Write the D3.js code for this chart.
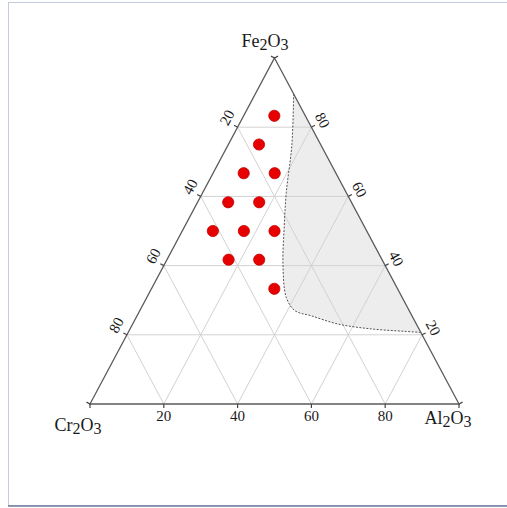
<!DOCTYPE html>
<html>
<head>
<meta charset="utf-8">
<script src="https://cdn.jsdelivr.net/npm/d3@7"></script>
<style>
  body { margin: 0; background: #fff; }
  text { font-family: "Liberation Serif", "Times New Roman", serif; fill: #1a1a1a; }
</style>
</head>
<body>
<div class="ternary"></div>
<script>
// sample compositions (wt %)
const sampleFe = [83.3, 75, 66.7, 66.7, 58.3, 58.3, 50, 50, 50, 41.7, 41.7, 33.3];
const sampleAl = [8.3, 8.3, 8.3, 16.7, 8.3, 16.7, 8.3, 16.7, 25, 16.7, 25, 33.3];
const sampleCr = [8.4, 16.7, 25, 16.6, 33.4, 25, 41.7, 33.3, 25, 41.6, 33.3, 33.4];

// dashed boundary of the shaded field
const fieldFe = [89.6, 74.8, 61.2, 50.6, 40.0, 30.8, 27.0, 25.5, 23.1, 21.7, 21.0, 20.7];
const fieldAl = [10.4, 17.3, 22.6, 27.3, 32.3, 37.8, 42.0, 47.2, 55.7, 65.4, 74.7, 79.3];

const ticks = [20, 40, 60, 80];
const tickEnds = [0, 20, 40, 60, 80, 100];

const width = 507;
const height = 508;

const svg = d3.select('.ternary')
  .append("svg")
  .attr("width", width)
  .attr("height", height);

// frame
svg.append("rect")
  .attr("x", 8.5).attr("y", 2.5)
  .attr("width", 520).attr("height", 503)
  .attr("fill", "none")
  .attr("stroke", "#c3cbe2");
svg.append("line")
  .attr("x1", 8).attr("x2", 507)
  .attr("y1", 506).attr("y2", 506)
  .attr("stroke", "#6c7a9c").attr("stroke-width", 1.5);

const y = d3.scaleLinear().domain([0, 100]).range([404, 58]);
const x = d3.scaleLinear().domain([0, 100]).range([90, 459]);

// fe, al -> pixel
const px = (fe, al) => x(al + fe / 2);
const py = fe => y(fe);
const pt = (fe, al) => [px(fe, al), py(fe)];

// shaded field
const fieldPts = fieldFe.map((f, i) => pt(f, fieldAl[i]));
const curve = d3.line().curve(d3.curveCatmullRom.alpha(0.5));
svg.append("path")
  .attr("d", curve(fieldPts) + "Z")
  .attr("fill", "#ededed")
  .attr("stroke", "none");

// grid
const grid = svg.append("g")
  .attr("stroke", "#d2d2d2")
  .attr("stroke-width", 1);
ticks.forEach(t => {
  // Fe constant
  let a = pt(t, 0), b = pt(t, 100 - t);
  grid.append("line").attr("x1", a[0]).attr("y1", a[1]).attr("x2", b[0]).attr("y2", b[1]);
  // Al constant
  a = pt(0, t); b = pt(100 - t, t);
  grid.append("line").attr("x1", a[0]).attr("y1", a[1]).attr("x2", b[0]).attr("y2", b[1]);
  // Cr constant
  a = pt(0, 100 - t); b = pt(100 - t, 0);
  grid.append("line").attr("x1", a[0]).attr("y1", a[1]).attr("x2", b[0]).attr("y2", b[1]);
});

// dashed boundary on top of the grid
svg.append("path")
  .attr("d", curve(fieldPts))
  .attr("fill", "none")
  .attr("stroke", "#555")
  .attr("stroke-width", 1)
  .attr("stroke-dasharray", "2,1.5");

// triangle
const apex = pt(100, 0), cornerL = pt(0, 0), cornerR = pt(0, 100);
svg.append("path")
  .attr("d", `M${apex}L${cornerR}L${cornerL}Z`)
  .attr("fill", "none")
  .attr("stroke", "#5a5a5a")
  .attr("stroke-width", 1.3);

// edge geometry
const lx = apex[0] - cornerL[0], ly = apex[1] - cornerL[1];
const len = Math.hypot(lx, ly);
const ux = lx / len, uy = ly / len; // up along left edge
const leftN = [uy, -ux];              // outward normal of left edge
const rightN = [-uy, -ux];            // outward normal of right edge
const angle = Math.atan2(ly, lx) * 180 / Math.PI;

const tickG = svg.append("g").attr("stroke", "#444").attr("stroke-width", 1.2);
tickEnds.forEach(t => {
  // left edge (Cr2O3)
  let p = pt(100 - t, 0);
  tickG.append("line").attr("x1", p[0]).attr("y1", p[1])
    .attr("x2", p[0] + leftN[0] * 4).attr("y2", p[1] + leftN[1] * 4);
  // right edge (Fe2O3)
  p = pt(t, 100 - t);
  tickG.append("line").attr("x1", p[0]).attr("y1", p[1])
    .attr("x2", p[0] + rightN[0] * 4).attr("y2", p[1] + rightN[1] * 4);
  // bottom (Al2O3)
  p = pt(0, t);
  tickG.append("line").attr("x1", p[0]).attr("y1", p[1])
    .attr("x2", p[0]).attr("y2", p[1] + 4);
});

// tick labels
ticks.forEach(t => {
  let p = pt(100 - t, 0);
  let cx = p[0] + leftN[0] * 14 + ux * 3.5, cy = p[1] + leftN[1] * 14 + uy * 3.5;
  svg.append("text")
    .attr("transform", `translate(${cx},${cy}) rotate(${angle})`)
    .attr("text-anchor", "middle").attr("dy", "0.35em")
    .attr("font-size", "15px").text(t);

  p = pt(t, 100 - t);
  cx = p[0] + rightN[0] * 12 + ux * 1.5; cy = p[1] + rightN[1] * 12 + uy * 1.5;
  svg.append("text")
    .attr("transform", `translate(${cx},${cy}) rotate(${-angle})`)
    .attr("text-anchor", "middle").attr("dy", "0.35em")
    .attr("font-size", "15px").text(t);

  p = pt(0, t);
  svg.append("text")
    .attr("x", p[0]).attr("y", p[1] + 17)
    .attr("text-anchor", "middle")
    .attr("font-size", "15px").text(t);
});

// vertex labels
const formula = (xx, yy, a) => {
  const t = svg.append("text").attr("x", xx).attr("y", yy)
    .attr("text-anchor", "middle").attr("font-size", "18px");
  t.append("tspan").text(a);
  t.append("tspan").attr("dy", 3).attr("font-size", "16px").text("2");
  t.append("tspan").attr("dy", -3).text("O");
  t.append("tspan").attr("dy", 3).attr("font-size", "16px").text("3");
};
formula(265, 47, "Fe");
formula(78, 431, "Cr");
formula(448, 424, "Al");

// samples
svg.selectAll("circle")
  .data(sampleFe)
  .enter()
  .append("circle")
  .attr("cx", (d, i) => px(d, sampleAl[i]))
  .attr("cy", d => py(d))
  .attr("r", 5.6)
  .attr("fill", "#e60000")
  .attr("stroke", "#c40000")
  .attr("stroke-width", 0.8);
</script>
</body>
</html>
